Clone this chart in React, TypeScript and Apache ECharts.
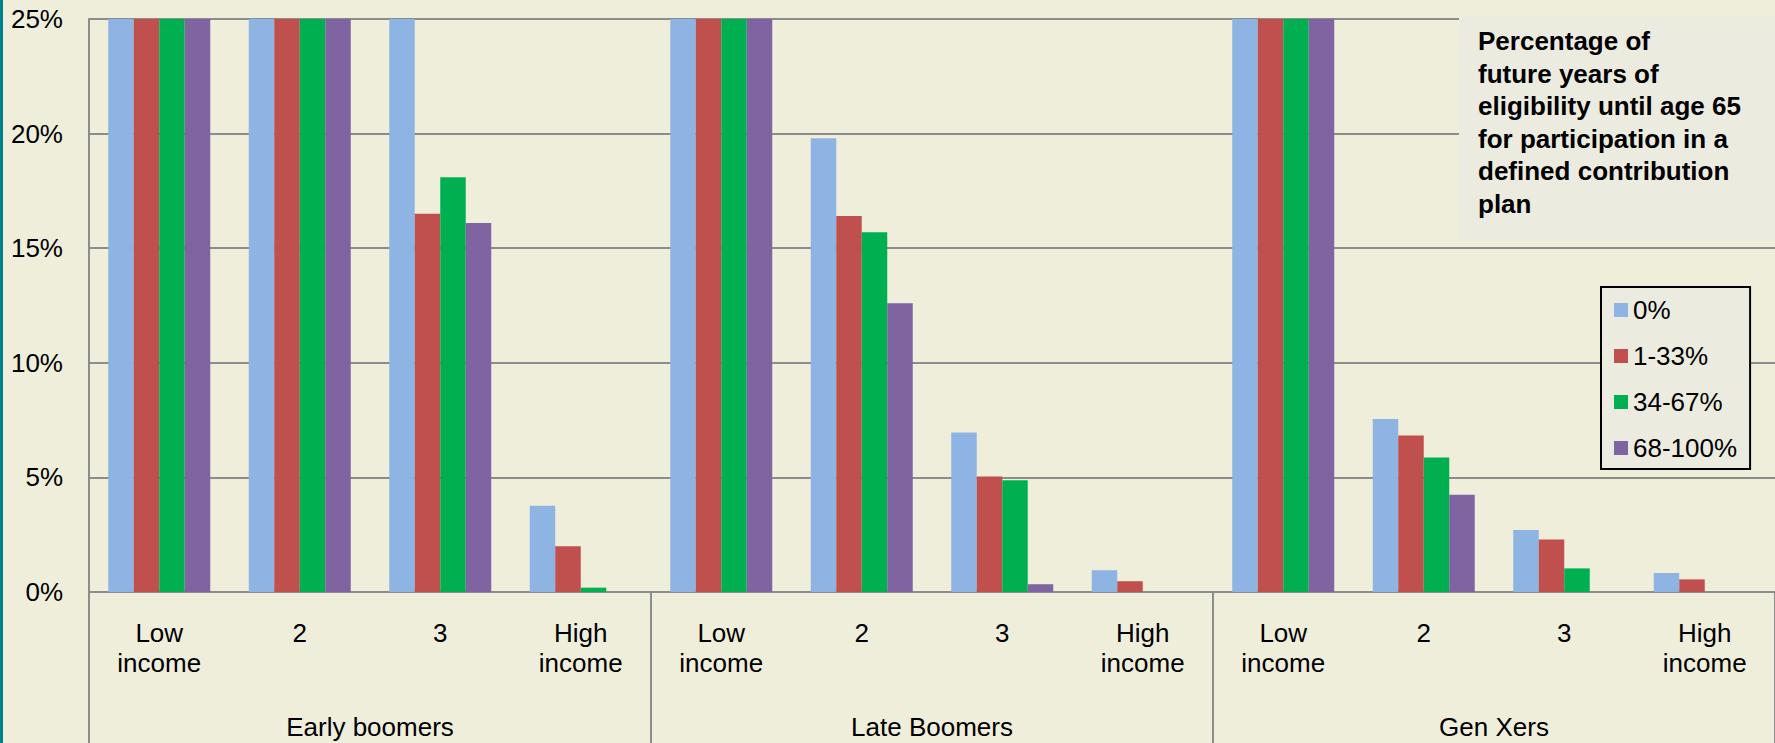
import React, { useEffect, useRef } from "react";
import * as echarts from "echarts";

// Income quartiles within each birth cohort
const incomeLabels = ["Low\nincome", "2", "3", "High\nincome"];
const cohorts = ["Early boomers", "Late Boomers", "Gen Xers"];
const categories = cohorts.flatMap(() => incomeLabels);

// Share of future years of DC-plan eligibility until age 65 (legend)
const eligibilityBands = ["0%", "1-33%", "34-67%", "68-100%"];

// Values in percent; bars above 25% run off the top of the axis
const band0 = [41.5, 34.2, 27.6, 3.76, 38.9, 19.8, 6.96, 0.95, 36.4, 7.55, 2.71, 0.83];
const band1 = [33.8, 30.5, 16.5, 2.0, 31.2, 16.4, 5.04, 0.47, 29.7, 6.83, 2.29, 0.55];
const band2 = [30.1, 31.9, 18.1, 0.19, 28.6, 15.7, 4.88, 0, 27.3, 5.87, 1.03, 0];
const band3 = [36.7, 33.4, 16.1, 0, 34.5, 12.6, 0.34, 0, 32.8, 4.24, 0, 0];

const yTicks = { min: 0, max: 25, interval: 5 };

const bandColors = ["#8eb4e3", "#c0504d", "#00b050", "#8064a2"];

const noteLines = [
  "Percentage of",
  "future years of",
  "eligibility until age 65",
  "for participation in a",
  "defined contribution",
  "plan",
];

const FONT = "'Liberation Sans', Arial, sans-serif";
const GRID = "#8c8c8c";

export default function App() {
  const ref = useRef<HTMLDivElement>(null);

  useEffect(() => {
    if (!ref.current) return;
    document.body.style.margin = "0";
    const chart = echarts.init(ref.current, null, { renderer: "svg" });
    const values = [band0, band1, band2, band3];

    chart.setOption({
      animation: false,
      backgroundColor: "#efeedb",
      textStyle: { fontFamily: FONT },
      grid: { left: 89, top: 19, width: 1686, height: 573 },
      legend: {
        orient: "vertical",
        left: 1601,
        top: 287,
        padding: [10, 13, 8, 13],
        itemGap: 20,
        itemWidth: 14,
        itemHeight: 14,
        icon: "rect",
        backgroundColor: "#ecebe0",
        borderColor: "#000",
        borderWidth: 2,
        textStyle: { fontSize: 26, lineHeight: 26, color: "#000", fontFamily: FONT },
        data: eligibilityBands,
      },
      xAxis: [
        {
          type: "category",
          data: categories,
          position: "bottom",
          axisLine: { show: true, lineStyle: { color: GRID, width: 2 } },
          axisTick: { show: false },
          axisLabel: {
            interval: 0,
            margin: 26,
            fontSize: 26,
            lineHeight: 30,
            color: "#000",
            fontFamily: FONT,
          },
          splitLine: { show: false },
        },
        {
          type: "category",
          data: cohorts,
          position: "bottom",
          axisLine: { show: false },
          axisTick: {
            show: true,
            interval: 0,
            length: 160,
            lineStyle: { color: GRID, width: 2 },
          },
          axisLabel: {
            interval: 0,
            margin: 120,
            fontSize: 26,
            lineHeight: 30,
            color: "#000",
            fontFamily: FONT,
          },
          splitLine: { show: false },
        },
      ],
      yAxis: {
        type: "value",
        min: yTicks.min,
        max: yTicks.max,
        interval: yTicks.interval,
        axisLine: { show: true, lineStyle: { color: GRID, width: 2 } },
        axisTick: { show: false },
        axisLabel: {
          formatter: "{value}%",
          margin: 26,
          fontSize: 26,
          color: "#000",
          fontFamily: FONT,
        },
        splitLine: { show: true, lineStyle: { color: GRID, width: 2 } },
      },
      series: eligibilityBands.map((name, i) => ({
        name,
        type: "bar",
        xAxisIndex: 0,
        data: values[i],
        barGap: "0%",
        barCategoryGap: "27.4%",
        clip: true,
        itemStyle: { color: bandColors[i] },
      })),
      graphic: [
        {
          type: "rect",
          z: 100,
          shape: { x: 0, y: 0, width: 3, height: 743 },
          style: { fill: "#00808c" },
        },
        {
          type: "rect",
          z: 100,
          shape: { x: 1459, y: 17, width: 316, height: 223 },
          style: { fill: "#ecebe0" },
        },
        {
          type: "text",
          z: 101,
          x: 1478,
          y: 25,
          style: {
            text: noteLines.join("\n"),
            font: `bold 26px ${FONT}`,
            lineHeight: 32.5,
            fill: "#000",
            verticalAlign: "top",
            align: "left",
          },
        },
      ],
    });

    return () => chart.dispose();
  }, []);

  return (
    <div
      ref={ref}
      style={{ position: "fixed", left: 0, top: 0, width: 1775, height: 743 }}
    />
  );
}
